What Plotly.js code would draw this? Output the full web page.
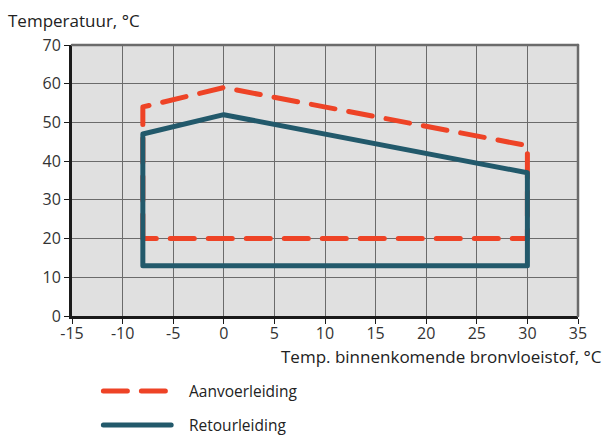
<!DOCTYPE html>
<html><head><meta charset="utf-8">
<script src="https://cdn.plot.ly/plotly-3.0.1.min.js"></script>
<style>
html,body{margin:0;padding:0;background:#fff;}
#chart{width:609px;height:435px;}
.scatterlayer path.js-line, .shapelayer path{stroke-linecap:round !important;stroke-linejoin:round !important;}
</style>
</head><body><div id="chart"></div>
<script>
// Data
var supplyX = [-8, -8, 0, 30, 30, -8];
var supplyY = [20, 54, 59, 44, 20, 20];
var returnX = [-8, -8, 0, 30, 30, -8];
var returnY = [13, 47, 52, 37, 13, 13];
var supplyName = 'Aanvoerleiding';
var returnName = 'Retourleiding';
var xTickVals = [-15, -10, -5, 0, 5, 10, 15, 20, 25, 30, 35];
var xTickText = ['-15', '-10', '-5', '0', '5', '10', '15', '20', '25', '30', '35'];
var yTickVals = [0, 10, 20, 30, 40, 50, 60, 70];
var xTitle = 'Temp. binnenkomende bronvloeistof, °C';
var yTitle = 'Temperatuur, °C';

var FONT = '"Open Sans", "Noto Sans", sans-serif';
var red = '#ee4326';
var blue = '#22596b';
var supplyDash = '24px,14px';

var traces = [
  {x: supplyX, y: supplyY, mode: 'lines', name: supplyName,
   line: {color: red, width: 5, dash: supplyDash}},
  {x: returnX, y: returnY, mode: 'lines', name: returnName,
   line: {color: blue, width: 5}}
];

// manual legend (paper coordinates)
function legendRow(yp, color, dash, label) {
  return {
    shape: {type: 'line', xref: 'paper', yref: 'paper', x0: 0.062, x1: 0.196, y0: yp, y1: yp,
            line: {color: color, width: 5, dash: dash}},
    ann: {text: label, xref: 'paper', yref: 'paper', x: 0.228, y: yp, xanchor: 'left', yanchor: 'middle',
          showarrow: false, font: {family: FONT, size: 15.5, color: '#222'}}
  };
}
var r1 = legendRow(-0.2768, red, '24px,14px', supplyName);
var r2 = legendRow(-0.4022, blue, 'solid', returnName);

var layout = {
  width: 609, height: 435,
  margin: {l: 72, r: 31, t: 45, b: 119},
  paper_bgcolor: '#ffffff',
  plot_bgcolor: '#e0e0e0',
  font: {family: FONT, size: 16, color: '#333'},
  showlegend: false,
  xaxis: {range: [-15, 35], tickvals: xTickVals, ticktext: xTickText,
          showgrid: true, gridcolor: '#6b6b6b', gridwidth: 1, zeroline: false,
          showline: true, linecolor: '#1a1a1a', linewidth: 3,
          ticks: 'outside', ticklen: 5, tickcolor: '#1a1a1a', tickwidth: 1,
          ticklabelstandoff: -4,
          tickfont: {family: FONT, size: 16, color: '#333'}, fixedrange: true},
  yaxis: {range: [0, 70], tickvals: yTickVals,
          showgrid: true, gridcolor: '#6b6b6b', gridwidth: 1, zeroline: false,
          showline: true, linecolor: '#1a1a1a', linewidth: 3,
          ticks: 'outside', ticklen: 5, tickcolor: '#1a1a1a', tickwidth: 1,
          tickfont: {family: FONT, size: 16, color: '#333'}, fixedrange: true},
  shapes: [
    {type: 'line', xref: 'paper', yref: 'paper', x0: 0, x1: 1, y0: 1, y1: 1,
     line: {color: '#6b6b6b', width: 2.5}},
    {type: 'line', xref: 'paper', yref: 'paper', x0: 1, x1: 1, y0: 0, y1: 1,
     line: {color: '#6b6b6b', width: 2.5}},
    r1.shape, r2.shape
  ],
  annotations: [
    {text: yTitle, xref: 'paper', yref: 'paper', x: -0.13, y: 1.0886,
     xanchor: 'left', yanchor: 'middle', showarrow: false,
     font: {family: FONT, size: 17, color: '#222'}},
    {text: xTitle, xref: 'paper', yref: 'paper', x: 1.052, y: -0.15,
     xanchor: 'right', yanchor: 'middle', showarrow: false,
     font: {family: FONT, size: 17, color: '#222'}},
    r1.ann, r2.ann
  ]
};

Plotly.newPlot('chart', traces, layout, {staticPlot: true, displayModeBar: false});
</script>
</body></html>
